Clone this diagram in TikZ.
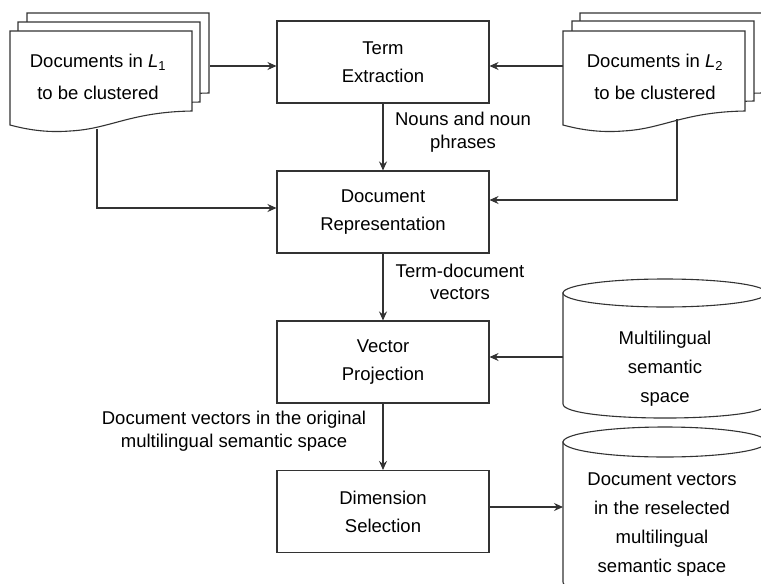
\documentclass[tikz,border=0pt]{standalone}
\usepackage{fontspec}
\setmainfont{Liberation Sans}
\usetikzlibrary{arrows.meta}
\begin{document}
\begin{tikzpicture}[x=1pt,y=-1pt,line width=1.1pt,
  ln/.style={draw=black!80},
  arr/.style={draw=black!80,-{Stealth[length=9pt,width=8pt,inset=3pt]}},
  box/.style={draw=black!80,fill=white,minimum width=212pt,minimum height=82pt,align=center,font=\fontsize{18.5}{28}\selectfont},
  doctext/.style={align=center,font=\fontsize{18.5}{32}\selectfont},
  cyltext/.style={align=center,font=\fontsize{18.5}{29}\selectfont},
  lab/.style={align=center,font=\fontsize{18.5}{22.5}\selectfont},
  docpic/.pic={\draw[draw=black!80,fill=white,line join=miter] (0,0) -- (182,0) -- (182,80) .. controls (120,81) and (100,98) .. (60,100) .. controls (35,102) and (15,98) .. (0,94) -- cycle;}]
\fill[white] (0,0) rectangle (761,584);
\useasboundingbox (0,0) rectangle (761,584);
\clip (0,0) rectangle (761,584);
% document stacks
\pic at (27,13) {docpic};
\pic at (18,22) {docpic};
\pic at (10,31) {docpic};
\pic at (580,13) {docpic};
\pic at (572,21) {docpic};
\pic at (563,31) {docpic};
\node[doctext] (d1) at (98,77) {Documents in \textit{L}\textsubscript{1}\\to be clustered};
\node[doctext] (d2) at (655,77) {Documents in \textit{L}\textsubscript{2}\\to be clustered};
\coordinate (d1r) at (210,66);
\coordinate (d1b) at (97,129);
\coordinate (d2l) at (563,66);
\coordinate (d2b) at (677,119);
% cylinders
\draw[ln,fill=white] (563,293) -- (563,404) .. controls (563,422.7) and (767,422.7) .. (767,404) -- (767,293) -- cycle;
\draw[ln,fill=white] (665,293) ellipse[x radius=102,y radius=14];
\draw[ln,fill=white] (563,442) -- (563,582) .. controls (563,602) and (767,602) .. (767,582) -- (767,442) -- cycle;
\draw[ln,fill=white] (665,442) ellipse[x radius=102,y radius=15];
\node[cyltext] (c1) at (665,369) {Multilingual\\semantic\\space};
\node[cyltext] (c2) at (662,525) {Document vectors\\in the reselected\\multilingual\\semantic space};
\coordinate (c1w) at (563,357);
\coordinate (c2w) at (563,507);
% process boxes
\node[box] (TE) at (383,62) {Term\\Extraction};
\node[box] (DR) at (383,212) {Document\\Representation};
\node[box] (VP) at (383,362) {Vector\\Projection};
\node[box] (DS) at (383,511.5) {Dimension\\Selection};
% labels
\node[lab] (l1) at (463,132) {Nouns and noun\\phrases};
\node[lab] (l2) at (460,282) {Term-document\\vectors};
\node[lab] (l3) at (234,431) {Document vectors in the original\\multilingual semantic space};
% connectors
\draw[arr] (d1r) -- (d1r -| TE.west);
\draw[arr] (d2l) -- (d2l -| TE.east);
\draw[arr] (TE) -- (DR);
\draw[arr] (d1b) |- ([yshift=4pt]DR.west);
\draw[arr] (d2b) |- ([yshift=12pt]DR.east);
\draw[arr] (DR) -- (VP);
\draw[arr] (c1w) -- (c1w -| VP.east);
\draw[arr] (VP) -- (DS);
\draw[arr] (c2w -| DS.east) -- (c2w);
\end{tikzpicture}
\end{document}
